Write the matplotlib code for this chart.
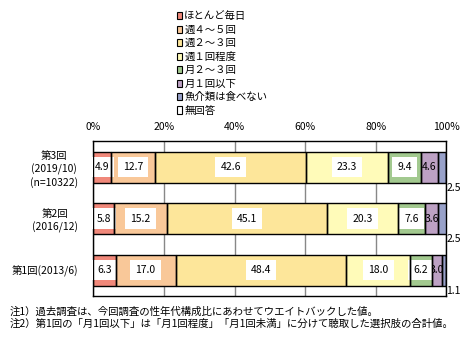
import matplotlib
matplotlib.use("Agg")
import matplotlib.pyplot as plt
import numpy as np

plt.rcParams['font.family'] = ['Noto Sans CJK JP', 'DejaVu Sans']

# Survey rounds (top to bottom)
rounds = ["第3回\n(2019/10)\n(n=10322)", "第2回\n(2016/12)", "第1回(2013/6)"]

# Answer categories
categories = ["ほとんど毎日", "週４～５回", "週２～３回", "週１回程度",
              "月２～３回", "月１回以下", "魚介類は食べない", "無回答"]

# Percentages per round, in category order
almost_daily = [4.9, 5.8, 6.3]
weekly_4_5 = [12.7, 15.2, 17.0]
weekly_2_3 = [42.6, 45.1, 48.4]
weekly_1 = [23.3, 20.3, 18.0]
monthly_2_3 = [9.4, 7.6, 6.2]
monthly_1_or_less = [4.6, 3.6, 3.0]
no_seafood = [2.5, 2.5, 1.1]
no_answer = [0.0, 0.0, 0.0]

series = [almost_daily, weekly_4_5, weekly_2_3, weekly_1,
          monthly_2_3, monthly_1_or_less, no_seafood, no_answer]

colors = ["#F0887A", "#F9C899", "#FDE69A", "#FFFBB9",
          "#A2C98F", "#BDA1C4", "#98A1C9", "#FFFFFF"]

tick_values = [0, 20, 40, 60, 80, 100]
tick_labels = ["0%", "20%", "40%", "60%", "80%", "100%"]

notes = ["注1）過去調査は、今回調査の性年代構成比にあわせてウエイトバックした値。",
         "注2）第1回の「月1回以下」は「月1回程度」「月1回未満」に分けて聴取した選択肢の合計値。"]

fig = plt.figure(figsize=(4.77, 3.38), dpi=100)
ax = fig.add_axes([0.1956, 0.1243, 0.7401, 0.4577])

y = np.arange(len(rounds))
bar_h = 0.6
left = np.zeros(len(rounds))
fills = []
for vals, col, name in zip(series, colors, categories):
    vals = np.array(vals)
    # fill layer
    b = ax.barh(y, vals, left=left, height=bar_h, color=col, edgecolor="none",
                linewidth=0, zorder=2, label=name)
    # outline layer above the value labels
    ax.barh(y, vals, left=left, height=bar_h, color="none", edgecolor="black",
            linewidth=1.0, zorder=4)
    fills.append((b, vals, left.copy()))
    left = left + vals

fs = 7.5
boxed = {0, 1, 2, 3, 4}
for k, (b, vals, lefts) in enumerate(fills):
    for i, (rect, v, l) in enumerate(zip(b.patches, vals, lefts)):
        if v <= 0:
            continue
        if k in boxed or k == 5:
            kw = {}
            if k in boxed:
                kw['bbox'] = dict(boxstyle="square,pad=0.5", fc="white", ec="none")
            t = ax.text(l + v / 2, i, f"{v:.1f}", ha="center", va="center",
                        fontsize=fs, zorder=3 if k in boxed else 2.5, **kw)
            t.set_clip_path(rect)
        else:
            ax.annotate(f"{v:.1f}", xy=(l + v, i + bar_h / 2), xytext=(0, -5),
                        textcoords="offset pixels", ha="left", va="center",
                        fontsize=fs, annotation_clip=False, zorder=5)

ax.set_xlim(0, 100)
ax.set_ylim(len(rounds) - 0.5, -0.5)
ax.set_xticks(tick_values)
ax.set_xticklabels(tick_labels, fontsize=fs)
ax.xaxis.tick_top()
ax.tick_params(axis="x", length=0, pad=7)
ax.set_yticks(y)
ax.set_yticklabels(rounds, fontsize=fs, multialignment="center", linespacing=1.3)
ax.tick_params(axis="y", length=0, pad=11)
ax.grid(axis="x", color="#888888", linewidth=1.0, zorder=1)
ax.set_axisbelow(True)
for s in ax.spines.values():
    s.set_color("black")
    s.set_linewidth(1.0)

handles = [f[0] for f in fills]
leg = fig.legend(handles, categories, loc="upper left",
                 bbox_to_anchor=(0.371, 0.966), frameon=False, fontsize=fs,
                 handlelength=0.5, handleheight=0.7, handletextpad=0.2,
                 labelspacing=0.33, borderaxespad=0, borderpad=0)
for h in leg.legend_handles:
    h.set_edgecolor("black")
    h.set_linewidth(0.8)

fig.text(0.021, 1 - 311.5 / 338, notes[0], fontsize=fs, va="center", ha="left")
fig.text(0.021, 1 - 323.5 / 338, notes[1], fontsize=fs, va="center", ha="left")

fig.savefig("out.png", dpi=100)
